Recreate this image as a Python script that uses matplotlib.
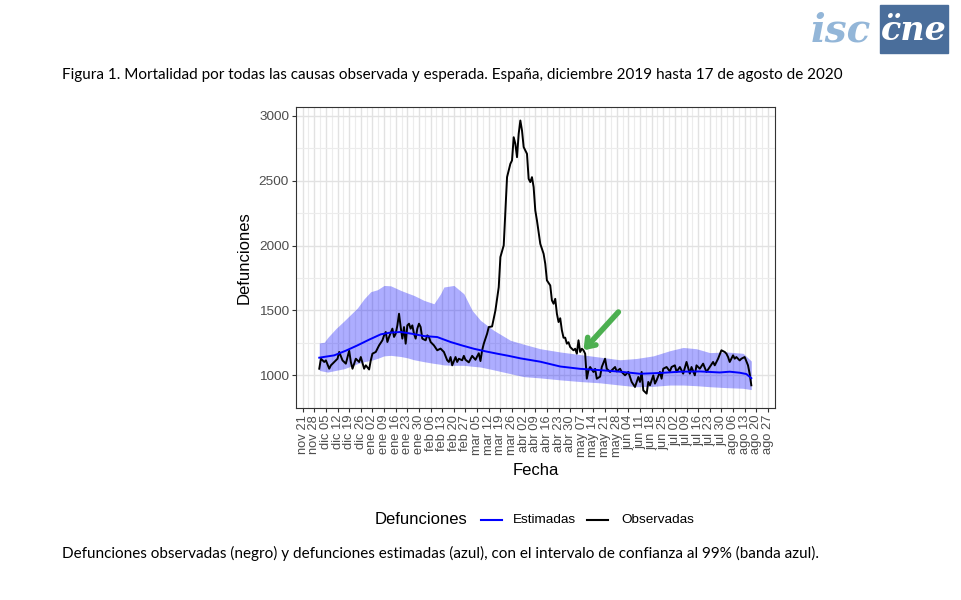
import numpy as np
import matplotlib
matplotlib.use("Agg")
import matplotlib.pyplot as plt
from matplotlib.lines import Line2D
from matplotlib.patches import Rectangle

# datos (día = días desde 1 dic 2019)
inicio = np.datetime64("2019-12-01")

obs_dia = [0, 1, 3, 4, 6, 7, 9, 11, 12, 14, 16, 18, 19, 20, 22, 24, 25, 27, 28, 30,
           31, 32, 34, 36, 38, 39, 40, 41, 42, 44, 45, 46, 47, 48, 49, 50, 51, 52, 53, 54,
           55, 56, 57, 58, 59, 60, 61, 62, 64, 65, 66, 67, 69, 71, 73, 75, 77, 78, 79, 80,
           82, 83, 84, 86, 87, 88, 90, 92, 94, 96, 97, 98, 99, 101, 102, 104, 106, 108, 109, 111,
           112, 113, 115, 116, 117, 118, 119, 120, 121, 122, 123, 125, 126, 127, 128, 129, 130, 131, 133, 135,
           136, 137, 139, 140, 141, 142, 143, 144, 145, 146, 147, 148, 149, 150, 151, 153, 154, 155, 156, 157,
           158, 159, 160, 161, 162, 163, 165, 166, 167, 169, 170, 172, 173, 175, 177, 178, 179, 181, 182, 184,
           186, 188, 190, 192, 193, 194, 195, 197, 198, 199, 201, 202, 203, 205, 206, 207, 209, 211, 212, 214,
           215, 217, 219, 221, 223, 224, 226, 227, 229, 231, 233, 235, 237, 238, 240, 242, 244, 245, 246, 247,
           249, 250, 251, 253, 254, 256, 258, 259, 260]
obs_val = [1051, 1128, 1103, 1115, 1051, 1077, 1103, 1128, 1180, 1115, 1090, 1190, 1103, 1051, 1128, 1103, 1141, 1051, 1077, 1045,
           1115, 1167, 1180, 1231, 1270, 1308, 1334, 1257, 1296, 1360, 1296, 1321, 1385, 1475, 1372, 1283, 1372, 1244, 1385, 1398,
           1360, 1385, 1321, 1283, 1360, 1398, 1372, 1283, 1270, 1308, 1296, 1257, 1231, 1193, 1206, 1180, 1116, 1103, 1141, 1077,
           1141, 1103, 1128, 1116, 1150, 1120, 1100, 1150, 1120, 1170, 1110, 1192, 1244, 1321, 1372, 1377, 1500, 1680, 1912, 2002,
           2271, 2528, 2631, 2657, 2836, 2785, 2682, 2862, 2965, 2888, 2760, 2708, 2515, 2490, 2528, 2451, 2271, 2194, 2014, 1937,
           1860, 1732, 1693, 1578, 1552, 1590, 1475, 1411, 1440, 1347, 1290, 1290, 1244, 1255, 1218, 1193, 1205, 1167, 1270, 1180,
           1205, 1193, 1167, 974, 1039, 1064, 1026, 1050, 974, 990, 1064, 1128, 1051, 1026, 1051, 1064, 1030, 1051, 1026, 1000,
           1026, 949, 910, 987, 949, 1026, 884, 859, 949, 923, 1000, 936, 962, 1026, 974, 1051, 1064, 1030, 1064, 1077,
           1026, 1064, 1013, 1103, 1013, 1064, 1000, 1077, 1051, 1090, 1026, 1064, 1103, 1077, 1128, 1193, 1180, 1167, 1141, 1103,
           1154, 1128, 1141, 1115, 1128, 1141, 1077, 1013, 923]

est_dia = [0, 9, 16, 23, 30, 37, 43, 49, 56, 63, 71, 79, 86, 93, 100, 107, 114, 121, 133, 145,
           157, 169, 181, 193, 205, 217, 229, 241, 247, 253, 257, 260]
est_val = [1136, 1154, 1190, 1231, 1275, 1316, 1330, 1334, 1320, 1303, 1295, 1257, 1230, 1205, 1185, 1167, 1150, 1131, 1105, 1068,
           1050, 1040, 1028, 1012, 1018, 1028, 1030, 1022, 1028, 1020, 1010, 978]

banda_dia = [0, 3, 5, 10, 15, 19, 23, 27, 31, 35, 39, 43, 49, 53, 57, 63, 69, 73, 75, 81,
             87, 92, 97, 105, 115, 123, 133, 145, 157, 169, 181, 191, 201, 211, 219, 227, 235, 245, 255, 260]
banda_sup = [1250, 1255, 1290, 1360, 1420, 1470, 1520, 1590, 1645, 1660, 1693, 1690, 1655, 1635, 1616, 1578, 1552, 1629, 1681, 1693,
             1629, 1501, 1424, 1347, 1270, 1240, 1205, 1180, 1160, 1140, 1120, 1130, 1150, 1190, 1215, 1205, 1175, 1180, 1170, 1110]
banda_inf = [1038, 1030, 1025, 1038, 1051, 1070, 1090, 1105, 1115, 1130, 1150, 1154, 1145, 1135, 1120, 1105, 1092, 1085, 1080, 1077,
             1077, 1070, 1064, 1042, 1013, 990, 980, 965, 952, 942, 925, 912, 915, 925, 925, 920, 912, 905, 900, 890]

meses = ["ene", "feb", "mar", "abr", "may", "jun", "jul", "ago", "sep", "oct", "nov", "dic"]
y_ticks = [1000, 1500, 2000, 2500, 3000]

titulo = ("Figura 1. Mortalidad por todas las causas observada y esperada. "
          "España, diciembre 2019 hasta 17 de agosto de 2020")
pie = ("Defunciones observadas (negro) y defunciones estimadas (azul), "
       "con el intervalo de confianza al 99% (banda azul).")


def fechas(dias):
    return inicio + np.array(dias).astype("timedelta64[D]")


plt.rcParams["font.family"] = ["Liberation Sans", "DejaVu Sans"]

W, H = 962, 600
fig = plt.figure(figsize=(W / 100, H / 100), dpi=100)
ax = fig.add_axes([296 / W, 1 - 408 / H, 479 / W, 301 / H])

ax.fill_between(fechas(banda_dia), banda_inf, banda_sup, color="#0000ff",
                alpha=0.32, lw=0, zorder=2)
ax.plot(fechas(obs_dia), obs_val, color="black", lw=1.4, zorder=3)
ax.plot(fechas(est_dia), est_val, color="#0000ff", lw=1.4, zorder=4)

# ejes estilo theme_bw
semanas = np.arange(np.datetime64("2019-11-21"), np.datetime64("2020-08-28"),
                    np.timedelta64(7, "D"))
etiquetas = [f"{meses[int(str(d)[5:7]) - 1]} {str(d)[8:10]}" for d in semanas]
ax.set_xticks(semanas)
ax.set_xticklabels(etiquetas, rotation=90)
minor_x = semanas[:-1] + np.timedelta64(84, "h")
ax.set_xticks(minor_x, minor=True)
ax.set_xlim(np.datetime64("2019-11-17T00"), np.datetime64("2020-08-31T06"))
ax.set_yticks(y_ticks)
ax.set_yticks([750, 1250, 1750, 2250, 2750], minor=True)
ax.set_ylim(748, 3069)

ax.grid(which="major", color="#e2e2e2", lw=1.0, zorder=0)
ax.grid(which="minor", color="#ececec", lw=0.8, zorder=0)
ax.set_axisbelow(True)
ax.tick_params(which="major", length=3, width=0.8, color="#333333",
               labelcolor="#4d4d4d", labelsize=9.3, pad=2)
ax.tick_params(which="minor", length=0)
ax.tick_params(axis="y", labelsize=9.7)
for s in ax.spines.values():
    s.set_color("#333333")
    s.set_linewidth(0.8)

ax.set_xlabel("Fecha", fontsize=12, labelpad=4)
ax.set_ylabel("Defunciones", fontsize=12, labelpad=5)

# flecha verde
ax.annotate("", xy=(fechas([159])[0], 1193), xytext=(fechas([180])[0], 1488),
            arrowprops=dict(arrowstyle="->,head_length=0.55,head_width=0.4",
                            color="#4caf50", lw=4, shrinkA=0, shrinkB=0,
                            capstyle="round", joinstyle="round"),
            zorder=6)

# leyenda inferior
ly = 1 - 520 / H
fig.text(375 / W, ly, "Defunciones", fontsize=12, va="center", ha="left")
fig.add_artist(Line2D([481 / W, 502 / W], [ly, ly], color="#0000ff", lw=1.5))
fig.text(513 / W, ly, "Estimadas", fontsize=9.7, va="center", ha="left")
fig.add_artist(Line2D([587 / W, 608 / W], [ly, ly], color="black", lw=1.5))
fig.text(621 / W, ly, "Observadas", fontsize=9.7, va="center", ha="left")

# textos del documento
fig.text(62 / W, 1 - 75 / H, titulo, fontsize=10.95, family="Lato",
         va="center", ha="left")
fig.text(62 / W, 1 - 553 / H, pie, fontsize=11.0, family="Lato",
         va="center", ha="left")

# logotipo
fig.add_artist(Rectangle((880 / W, 1 - 53 / H), 68 / W, 48 / H,
                         transform=fig.transFigure, color="#4a6e9b"))
fig.text(914 / W, 1 - 31 / H, "c\u0308ne", fontsize=24, color="white",
         style="italic", weight="bold", family="DejaVu Serif",
         ha="center", va="center")
fig.text(841 / W, 1 - 31 / H, "isc", fontsize=28, color="#93b6d8",
         style="italic", weight="bold", family="DejaVu Serif",
         ha="center", va="center")

fig.savefig("out.png", dpi=100)
